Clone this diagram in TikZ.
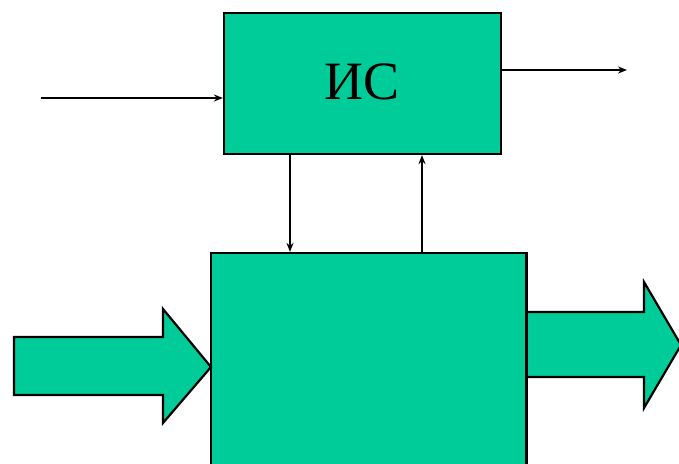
\documentclass[tikz,border=0pt]{standalone}
\usepackage{fontspec}
\setmainfont{Liberation Serif}
\usetikzlibrary{arrows.meta}
\definecolor{boxgreen}{RGB}{0,204,153}
\tikzset{
  block/.style={draw=black, fill=boxgreen, line width=2.2pt, inner sep=0pt},
  sig/.style={line width=2pt, -{Stealth[length=9pt,width=7pt]}},
  fat/.style={draw=black, fill=boxgreen, line width=2.2pt, line join=miter}
}
\begin{document}
\begin{tikzpicture}[x=1pt,y=-1pt]
\useasboundingbox (0,0) rectangle (679,463);
\clip (0,0) rectangle (679,463);
\node[block, minimum width=277pt, minimum height=141pt,
      font=\fontsize{54}{60}\selectfont] (is) at (362.5,83.5) {\raisebox{3pt}{ИС}\hspace{6pt}};
\node[block, minimum width=315pt, minimum height=240pt] (obj) at (368.5,373) {};
\coordinate (in) at (41,98);
\coordinate (out) at (627,70);
\coordinate (dn) at (290,0);
\coordinate (up) at (422,0);
\draw[sig] (in) -- (in -| is.west);
\draw[sig] (is.east |- out) -- (out);
\draw[sig] (dn |- is.south) -- (dn |- obj.north);
\draw[sig] (up |- obj.north) -- (up |- is.south);
% fat input arrow
\draw[fat] (14,337) -- (163,337) -- (163,309) -- (211,367) -- (163,423) -- (163,395) -- (14,395) -- cycle;
% fat output arrow
\draw[fat] (527,312) -- (644,312) -- (644,282) -- (681,345) -- (644,408) -- (644,377) -- (527,377);
\draw[line width=2.2pt] (obj.north east) -- (obj.south east);
\end{tikzpicture}
\end{document}
